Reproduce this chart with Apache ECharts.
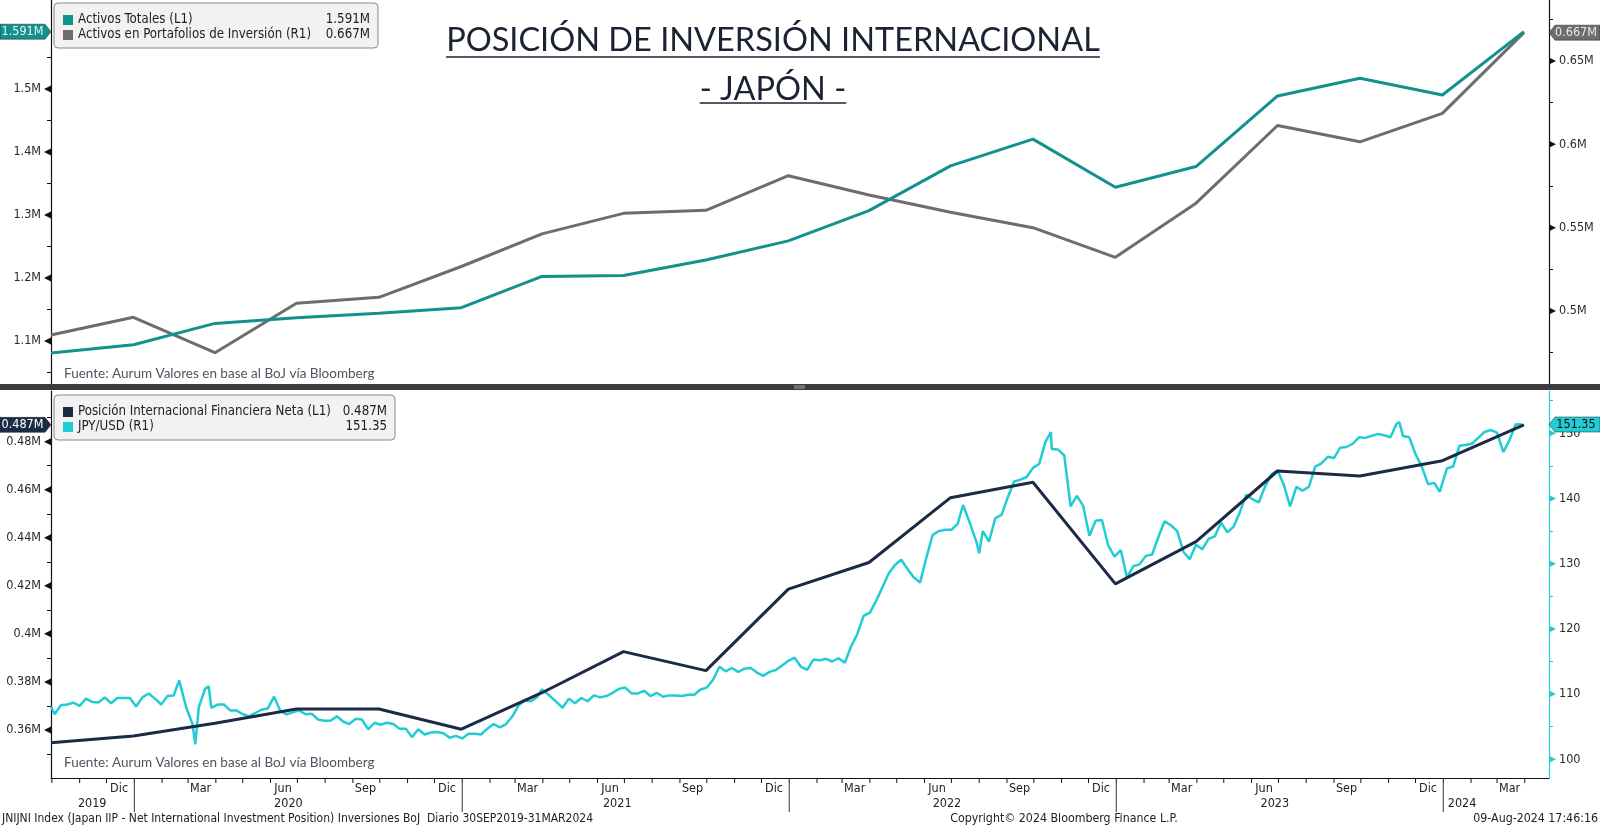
<!DOCTYPE html>
<html><head><meta charset="utf-8">
<script src="https://cdn.jsdelivr.net/npm/echarts@6/dist/echarts.min.js"></script>
<style>html,body{margin:0;padding:0;background:#fff;overflow:hidden}#c{width:1600px;height:827px}</style>
</head><body><div id="c"></div>
<script>
// ---------------- DATA ----------------
const quarterDates = ['2019-09-30','2019-12-31','2020-03-31','2020-06-30','2020-09-30','2020-12-31','2021-03-31','2021-06-30','2021-09-30','2021-12-31','2022-03-31','2022-06-30','2022-09-30','2022-12-31','2023-03-31','2023-06-30','2023-09-30','2023-12-31','2024-03-31'];
const activosTotales = [1.081,1.094,1.128,1.137,1.144,1.153,1.2025,1.204,1.2285,1.259,1.307,1.378,1.4205,1.344,1.377,1.489,1.517,1.4905,1.591];
const activosPortafolios = [0.4856,0.4962,0.475,0.5046,0.5082,0.5267,0.5463,0.5586,0.5604,0.5812,0.5696,0.5592,0.55,0.5322,0.5647,0.6113,0.6015,0.6186,0.667];
const posicionNeta = [0.3547,0.3575,0.3628,0.3687,0.3687,0.3603,0.3755,0.3926,0.3847,0.4186,0.4297,0.4567,0.4631,0.4208,0.4384,0.4678,0.4657,0.4721,0.487];
const jpyUsd = [
['2019-09-30',108.1],['2019-10-04',106.9],['2019-10-11',108.3],['2019-10-18',108.4],['2019-10-25',108.7],['2019-11-01',108.2],['2019-11-08',109.3],['2019-11-15',108.8],['2019-11-22',108.7],['2019-11-29',109.5],['2019-12-06',108.6],['2019-12-13',109.4],['2019-12-20',109.4],['2019-12-27',109.4],
['2020-01-03',108.1],['2020-01-10',109.5],['2020-01-17',110.1],['2020-01-24',109.3],['2020-01-31',108.4],['2020-02-07',109.7],['2020-02-14',109.8],['2020-02-20',112.1],['2020-02-28',107.9],['2020-03-06',105.4],['2020-03-09',102.3],['2020-03-13',108.0],['2020-03-20',110.8],['2020-03-24',111.2],['2020-03-27',107.9],
['2020-04-03',108.4],['2020-04-10',108.4],['2020-04-17',107.5],['2020-04-24',107.5],['2020-05-01',106.9],['2020-05-08',106.6],['2020-05-15',107.1],['2020-05-22',107.6],['2020-05-29',107.8],['2020-06-05',109.6],['2020-06-12',107.4],['2020-06-19',106.9],['2020-06-26',107.2],
['2020-07-03',107.5],['2020-07-10',106.9],['2020-07-17',107.0],['2020-07-24',106.1],['2020-07-31',105.9],['2020-08-07',105.9],['2020-08-14',106.6],['2020-08-21',105.8],['2020-08-28',105.4],['2020-09-04',106.2],['2020-09-11',106.1],['2020-09-18',104.6],['2020-09-25',105.6],
['2020-10-02',105.3],['2020-10-09',105.6],['2020-10-16',105.4],['2020-10-23',104.7],['2020-10-30',104.7],['2020-11-06',103.4],['2020-11-13',104.6],['2020-11-20',103.8],['2020-11-27',104.1],['2020-12-04',104.2],['2020-12-11',104.0],['2020-12-18',103.3],['2020-12-25',103.6],
['2021-01-01',103.2],['2021-01-08',103.9],['2021-01-15',103.9],['2021-01-22',103.8],['2021-01-29',104.7],['2021-02-05',105.4],['2021-02-12',104.9],['2021-02-19',105.4],['2021-02-26',106.6],['2021-03-05',108.3],['2021-03-12',109.0],['2021-03-19',108.9],['2021-03-26',109.6],['2021-03-31',110.7],
['2021-04-09',109.7],['2021-04-16',108.8],['2021-04-23',107.9],['2021-04-30',109.3],['2021-05-07',108.6],['2021-05-14',109.4],['2021-05-21',108.9],['2021-05-28',109.8],['2021-06-04',109.5],['2021-06-11',109.7],['2021-06-18',110.2],['2021-06-25',110.8],
['2021-07-02',111.0],['2021-07-09',110.1],['2021-07-16',110.1],['2021-07-23',110.5],['2021-07-30',109.7],['2021-08-06',110.2],['2021-08-13',109.6],['2021-08-20',109.8],['2021-08-27',109.8],['2021-09-03',109.7],['2021-09-10',109.9],['2021-09-17',109.9],['2021-09-24',110.7],
['2021-10-01',111.0],['2021-10-08',112.2],['2021-10-15',114.2],['2021-10-22',113.5],['2021-10-29',114.0],['2021-11-05',113.4],['2021-11-12',113.9],['2021-11-19',114.0],['2021-11-26',113.3],['2021-12-03',112.8],['2021-12-10',113.4],['2021-12-17',113.7],['2021-12-24',114.4],['2021-12-31',115.1],
['2022-01-07',115.6],['2022-01-14',114.2],['2022-01-21',113.7],['2022-01-28',115.3],['2022-02-04',115.2],['2022-02-11',115.4],['2022-02-18',115.0],['2022-02-25',115.5],['2022-03-04',114.8],['2022-03-11',117.3],['2022-03-18',119.2],['2022-03-25',122.0],
['2022-04-01',122.5],['2022-04-08',124.3],['2022-04-15',126.4],['2022-04-22',128.5],['2022-04-29',129.8],['2022-05-06',130.6],['2022-05-13',129.2],['2022-05-20',127.9],['2022-05-27',127.1],['2022-06-03',130.9],['2022-06-10',134.4],['2022-06-17',135.0],['2022-06-24',135.2],
['2022-07-01',135.2],['2022-07-08',136.1],['2022-07-14',139.0],['2022-07-22',136.1],['2022-07-29',133.3],['2022-08-01',131.6],['2022-08-05',135.0],['2022-08-12',133.4],['2022-08-19',137.0],['2022-08-26',137.5],['2022-09-02',140.2],['2022-09-09',142.6],['2022-09-16',142.9],['2022-09-23',143.3],['2022-09-30',144.7],
['2022-10-07',145.3],['2022-10-14',148.7],['2022-10-20',150.2],['2022-10-21',147.6],['2022-10-28',147.5],['2022-11-04',146.6],['2022-11-11',138.8],['2022-11-18',140.4],['2022-11-25',138.9],['2022-12-02',134.3],['2022-12-09',136.6],['2022-12-16',136.7],['2022-12-23',132.8],['2022-12-30',131.1],
['2023-01-06',132.1],['2023-01-13',127.9],['2023-01-20',129.6],['2023-01-27',129.9],['2023-02-03',131.2],['2023-02-10',131.4],['2023-02-17',134.1],['2023-02-24',136.5],['2023-03-03',135.9],['2023-03-10',135.0],['2023-03-17',131.8],['2023-03-24',130.7],['2023-03-31',132.9],
['2023-04-07',132.2],['2023-04-14',133.8],['2023-04-21',134.2],['2023-04-28',136.3],['2023-05-05',134.8],['2023-05-12',135.7],['2023-05-19',137.9],['2023-05-26',140.6],['2023-06-02',139.9],['2023-06-09',139.4],['2023-06-16',141.8],['2023-06-23',143.7],['2023-06-30',144.3],
['2023-07-07',142.1],['2023-07-14',138.8],['2023-07-21',141.8],['2023-07-28',141.2],['2023-08-04',141.8],['2023-08-11',144.9],['2023-08-18',145.4],['2023-08-25',146.4],['2023-09-01',146.2],['2023-09-08',147.8],['2023-09-15',147.9],['2023-09-22',148.4],['2023-09-29',149.4],
['2023-10-06',149.3],['2023-10-13',149.6],['2023-10-20',149.9],['2023-10-27',149.7],['2023-11-03',149.4],['2023-11-10',151.5],['2023-11-13',151.7],['2023-11-17',149.6],['2023-11-24',149.4],['2023-12-01',146.8],['2023-12-08',144.9],['2023-12-15',142.2],['2023-12-22',142.4],['2023-12-28',141.0],
['2024-01-05',144.6],['2024-01-12',144.9],['2024-01-19',148.1],['2024-01-26',148.2],['2024-02-02',148.4],['2024-02-09',149.3],['2024-02-16',150.2],['2024-02-23',150.5],['2024-03-01',150.1],['2024-03-08',147.1],['2024-03-15',149.0],['2024-03-22',151.4],['2024-03-29',151.35]
];
// tick labels
const topLeftTicks = [1.1,1.2,1.3,1.4,1.5];
const topLeftMinor = [1.05,1.15,1.25,1.35,1.45,1.55];
const topRightTicks = [0.5,0.55,0.6,0.65];
const topRightMinor = [0.475,0.525,0.575,0.625,0.675];
const botLeftTicks = [0.36,0.38,0.4,0.42,0.44,0.46,0.48];
const botLeftMinor = [0.35,0.37,0.39,0.41,0.43,0.45,0.47,0.49];
const botRightTicks = [100,110,120,130,140,150];
const botRightMinor = [105,115,125,135,145,155];
const monthNames = ['Ene','Feb','Mar','Abr','May','Jun','Jul','Ago','Sep','Oct','Nov','Dic'];
const labeledMonths = [2,5,8,11];
const yearLabels = ['2019','2020','2021','2022','2023','2024'];
const yearLabelDates = ['2019-11-15','2020-06-21','2021-06-23','2022-06-26','2023-06-27','2024-01-22'];
const yearBreaks = ['2020-01-01','2021-01-01','2022-01-01','2023-01-01','2024-01-01'];

// ---------------- STYLE ----------------
const C_TEAL='#13918c', C_GRAY='#6d6d6d', C_NAVY='#1c2b45', C_CYAN='#20cdd4';
const FC = '"DejaVu Sans Condensed","Liberation Sans Narrow","Roboto Condensed","DejaVu Sans",sans-serif';
const FT = 'Lato, "Open Sans", sans-serif';
const X_MIN='2019-09-30', X_MAX='2024-04-28';
const fmtM = v => (+(+v).toFixed(3)) + 'M';

function yPair(grid, pos, min, max, majors, minors, lineColor, fmt){
  const base = {gridIndex:grid, type:'value', position:pos, min:min, max:max, splitLine:{show:false}};
  return [
    Object.assign({}, base, {
      axisLine:{show:true, onZero:false, lineStyle:{color:lineColor, width:1.2}},
      axisTick:{show:false},
      axisLabel:{show:true, customValues:majors, margin:10, color:'#2a2a2a', fontFamily:FC, fontSize:12.5, formatter:fmt}
    }),
    Object.assign({}, base, {
      axisLine:{show:false}, axisTick:{show:true, customValues:minors, length:4, lineStyle:{color:lineColor, width:1}},
      axisLabel:{show:false}
    })
  ];
}
const yAxes = [].concat(
  yPair(0,'left',1.0302,1.6413,topLeftTicks,topLeftMinor,'#111',fmtM),
  yPair(0,'right',0.4556,0.6866,topRightTicks,topRightMinor,'#111',fmtM),
  yPair(1,'left',0.34,0.5011,botLeftTicks,botLeftMinor,'#111',fmtM),
  yPair(1,'right',97.13,156.49,botRightTicks,botRightMinor,C_CYAN,v=>String(v))
);
const xBase = {type:'time', min:X_MIN, max:X_MAX, splitLine:{show:false}, axisTick:{show:false}, axisLabel:{show:false}};
const option = {
  animation:false,
  backgroundColor:'#ffffff',
  grid:[{left:51,right:51,top:0,height:385},{left:51,right:51,top:391,height:387}],
  xAxis:[Object.assign({gridIndex:0, axisLine:{show:false}}, xBase), Object.assign({gridIndex:1, axisLine:{show:true, onZero:false, lineStyle:{color:'#111'}}}, xBase)],
  yAxis:yAxes,
  series:[
    {type:'line', name:'Activos en Portafolios de Inversión (R1)', xAxisIndex:0, yAxisIndex:2, symbol:'none', z:3,
     lineStyle:{color:C_GRAY,width:3}, data:quarterDates.map((d,i)=>[d,activosPortafolios[i]])},
    {type:'line', name:'Activos Totales (L1)', xAxisIndex:0, yAxisIndex:0, symbol:'none', z:4,
     lineStyle:{color:C_TEAL,width:3}, data:quarterDates.map((d,i)=>[d,activosTotales[i]])},
    {type:'line', name:'JPY/USD (R1)', xAxisIndex:1, yAxisIndex:6, symbol:'none', z:3,
     lineStyle:{color:C_CYAN,width:2.5}, data:jpyUsd},
    {type:'line', name:'Posición Internacional Financiera Neta (L1)', xAxisIndex:1, yAxisIndex:4, symbol:'none', z:4,
     lineStyle:{color:C_NAVY,width:3}, data:quarterDates.map((d,i)=>[d,posicionNeta[i]])}
  ]
};
const chart = echarts.init(document.getElementById('c'), null, {renderer:'canvas'});
chart.setOption(option);

// ---------------- DECORATION via library scales ----------------
const T = s => echarts.time.parse(s).getTime();
const px = d => chart.convertToPixel({xAxisIndex:1}, T(d));
const py = (yi, v) => chart.convertToPixel({yAxisIndex:yi}, v);
const G = [];
const AX_Y = 778, LEFT_X = 51, RIGHT_X = 1549;

// triangular major ticks
function triTicks(yi, vals, side, color){
  vals.forEach(v=>{
    const y = py(yi, v);
    const pts = side==='left' ? [[LEFT_X,y-3.5],[LEFT_X,y+3.5],[LEFT_X-7,y]] : [[RIGHT_X,y-3.5],[RIGHT_X,y+3.5],[RIGHT_X+7,y]];
    G.push({type:'polygon', shape:{points:pts}, style:{fill:color}, z:100});
  });
}
triTicks(0, topLeftTicks, 'left', '#111');
triTicks(2, topRightTicks, 'right', '#111');
triTicks(4, botLeftTicks, 'left', '#111');
triTicks(6, botRightTicks, 'right', C_CYAN);

// divider
G.push({type:'rect', shape:{x:0,y:384,width:1600,height:6}, style:{fill:'#3b3b3b'}, z:100});
G.push({type:'line', shape:{x1:794,y1:386,x2:805,y2:386}, style:{stroke:'#aaa',lineWidth:1}, z:101});
G.push({type:'line', shape:{x1:794,y1:388,x2:805,y2:388}, style:{stroke:'#aaa',lineWidth:1}, z:101});

// x-axis ticks and labels
for (let y=2019, m=9; y<2024 || (y===2024 && m<=3); ){
  const ds = y+'-'+String(m+1).padStart(2,'0')+'-01';
  const x = px(ds);
  if (x>LEFT_X && x<RIGHT_X) G.push({type:'line', shape:{x1:x,y1:AX_Y,x2:x,y2:AX_Y+5}, style:{stroke:'#111',lineWidth:1}, z:100});
  if (labeledMonths.indexOf(m)>=0){
    const lx = px(y+'-'+String(m+1).padStart(2,'0')+'-15');
    if (lx>LEFT_X && lx<RIGHT_X) G.push({type:'text', x:lx, y:789, style:{text:monthNames[m], font:'12.5px '+FC, fill:'#222', textAlign:'center', textVerticalAlign:'middle'}, z:100});
  }
  m++; if (m>11){m=0;y++;}
}
yearBreaks.forEach(d=>{const x=px(d); G.push({type:'line', shape:{x1:x,y1:783,x2:x,y2:812}, style:{stroke:'#333',lineWidth:1}, z:100});});
yearLabels.forEach((t,i)=>{G.push({type:'text', x:px(yearLabelDates[i]), y:804, style:{text:t, font:'12.5px '+FC, fill:'#222', textAlign:'center', textVerticalAlign:'middle'}, z:100});});

// footer
G.push({type:'text', x:2, y:819, style:{text:'JNIJNI Index (Japan IIP - Net International Investment Position) Inversiones BoJ  Diario 30SEP2019-31MAR2024', font:'12px '+FC, fill:'#222', textVerticalAlign:'middle'}, z:100});
G.push({type:'text', x:1064, y:819, style:{text:'Copyright© 2024 Bloomberg Finance L.P.', font:'12.3px '+FC, fill:'#222', textAlign:'center', textVerticalAlign:'middle'}, z:100});
G.push({type:'text', x:1598, y:819, style:{text:'09-Aug-2024 17:46:16', font:'12.3px '+FC, fill:'#222', textAlign:'right', textVerticalAlign:'middle'}, z:100});

// source notes
['Fuente: Aurum Valores en base al BoJ vía Bloomberg'].forEach(s=>{
  G.push({type:'text', x:64, y:374, style:{text:s, font:'13.5px '+FT, fill:'#4d5560', textVerticalAlign:'middle'}, z:100});
  G.push({type:'text', x:64, y:763, style:{text:s, font:'13.5px '+FT, fill:'#4d5560', textVerticalAlign:'middle'}, z:100});
});

// title with underline
const ctx = document.createElement('canvas').getContext('2d');
function title(text, cy, size, uy){
  const font = size+'px '+FT;
  ctx.font = font; const w = ctx.measureText(text).width;
  G.push({type:'text', x:773, y:cy, style:{text:text, font:font, fill:'#1b2233', textAlign:'center', textVerticalAlign:'middle'}, z:100});
  G.push({type:'line', shape:{x1:773-w/2,y1:uy,x2:773+w/2,y2:uy}, style:{stroke:'#1b2233',lineWidth:1.5}, z:100});
}
title('POSICIÓN DE INVERSIÓN INTERNACIONAL', 41, 32.5, 57);
title('- JAPÓN -', 90, 32.5, 103);

// legends
function legend(x, y, w, rows){
  G.push({type:'rect', shape:{x:x,y:y,width:w,height:45,r:4}, style:{fill:'#f2f2f2',stroke:'#8a8a8a',lineWidth:1}, z:100});
  rows.forEach((r,i)=>{
    const cy = y+17+i*15;
    G.push({type:'rect', shape:{x:x+9,y:cy-5,width:10,height:10}, style:{fill:r[0]}, z:101});
    G.push({type:'text', x:x+24, y:cy, style:{text:r[1], font:'13.2px '+FC, fill:'#222', textVerticalAlign:'middle'}, z:101});
    G.push({type:'text', x:x+w-8, y:cy, style:{text:r[2], font:'13.2px '+FC, fill:'#222', textAlign:'right', textVerticalAlign:'middle'}, z:101});
  });
}
legend(54, 3, 324, [[C_TEAL,'Activos Totales (L1)',fmtM(activosTotales[18])],[C_GRAY,'Activos en Portafolios de Inversión (R1)',fmtM(activosPortafolios[18])]]);
legend(54, 395, 341, [[C_NAVY,'Posición Internacional Financiera Neta (L1)',fmtM(posicionNeta[18])],[C_CYAN,'JPY/USD (R1)',jpyUsd[jpyUsd.length-1][1].toFixed(2)]]);

// last-value tags
function tag(side, y, text, bg, fg){
  const h=7.5; let pts, tx;
  if (side==='left'){ pts=[[0,y-h],[45,y-h],[LEFT_X,y],[45,y+h],[0,y+h]]; tx=22.5; }
  else { pts=[[RIGHT_X,y],[RIGHT_X+6,y-h],[1600,y-h],[1600,y+h],[RIGHT_X+6,y+h]]; tx=1576; }
  G.push({type:'polygon', shape:{points:pts}, style:{fill:bg, stroke:'#222', lineWidth:0.5}, z:110});
  G.push({type:'text', x:tx, y:y, style:{text:text, font:'12.5px '+FC, fill:fg, textAlign:'center', textVerticalAlign:'middle'}, z:111});
}
tag('left', py(0, activosTotales[18]), fmtM(activosTotales[18]), C_TEAL, '#e6f4f3');
tag('right', py(2, activosPortafolios[18]), fmtM(activosPortafolios[18]), C_GRAY, '#e8e8e8');
tag('left', py(4, posicionNeta[18]), fmtM(posicionNeta[18]), C_NAVY, '#ffffff');
tag('right', py(6, jpyUsd[jpyUsd.length-1][1]), jpyUsd[jpyUsd.length-1][1].toFixed(2), C_CYAN, '#111');

chart.setOption({graphic:G});
</script></body></html>
